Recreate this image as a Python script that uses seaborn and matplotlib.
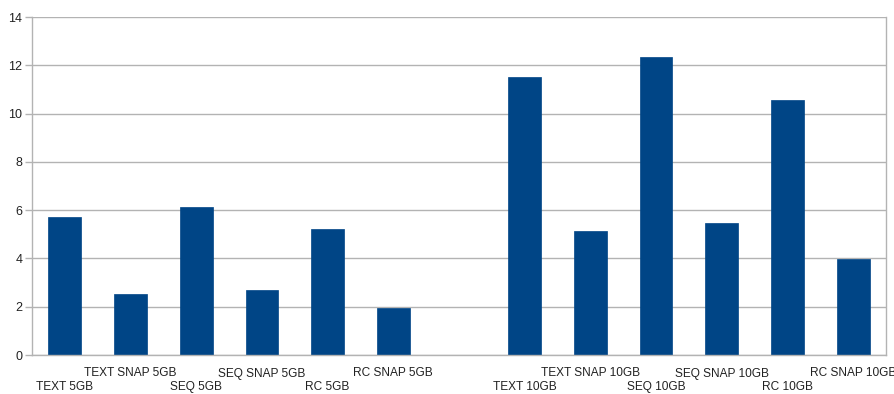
import matplotlib
matplotlib.use('Agg')
import matplotlib.pyplot as plt
import numpy as np
import pandas as pd
import seaborn as sns

# data (blank slot separates 5GB and 10GB groups)
categories = ['TEXT 5GB', 'TEXT SNAP 5GB', 'SEQ 5GB', 'SEQ SNAP 5GB', 'RC 5GB', 'RC SNAP 5GB',
              '',
              'TEXT 10GB', 'TEXT SNAP 10GB', 'SEQ 10GB', 'SEQ SNAP 10GB', 'RC 10GB', 'RC SNAP 10GB']
values = [5.72, 2.53, 6.13, 2.69, 5.22, 1.95,
          np.nan,
          11.52, 5.14, 12.34, 5.47, 10.56, 3.98]

df = pd.DataFrame({'cat': range(len(categories)), 'val': values})

sns.set_style('white')
plt.rcParams['font.family'] = ['Liberation Sans', 'DejaVu Sans']

fig = plt.figure(figsize=(8.94, 3.94), dpi=100)
ax = fig.add_axes([32 / 894, 39 / 394, 854 / 894, 338 / 394])

sns.barplot(data=df, x='cat', y='val', color='#004586', width=0.5,
            saturation=1, edgecolor='#004586', linewidth=0.5, ax=ax)

ax.set_xlim(-0.5, len(categories) - 0.5)
ax.set_ylim(0, 14)
ax.set_yticks(range(0, 15, 2))
ax.yaxis.grid(True, color='#b3b3b3', linewidth=1)
ax.set_axisbelow(True)
ax.set_xlabel('')
ax.set_ylabel('')

# staggered category labels: SNAP labels on the upper row
ax.set_xticks(range(len(categories)))
ax.set_xticklabels([c if 'SNAP' in c or c == '' else '\n' + c for c in categories],
                   fontsize=8.6, color='#222222', linespacing=1.2)
ax.set_xticks(np.arange(-0.5, len(categories)), minor=True)
ax.tick_params(axis='x', which='major', length=0, pad=9)
ax.tick_params(axis='x', which='minor', length=5, color='#b3b3b3', width=1)
ax.tick_params(axis='y', length=5, color='#b3b3b3', width=1, labelsize=9,
               labelcolor='#222222', pad=2, left=True)

for side in ['left', 'bottom', 'right']:
    ax.spines[side].set_visible(True)
    ax.spines[side].set_color('#b3b3b3')
    ax.spines[side].set_linewidth(1)
ax.spines['top'].set_visible(False)

fig.savefig('out.png', dpi=100)
